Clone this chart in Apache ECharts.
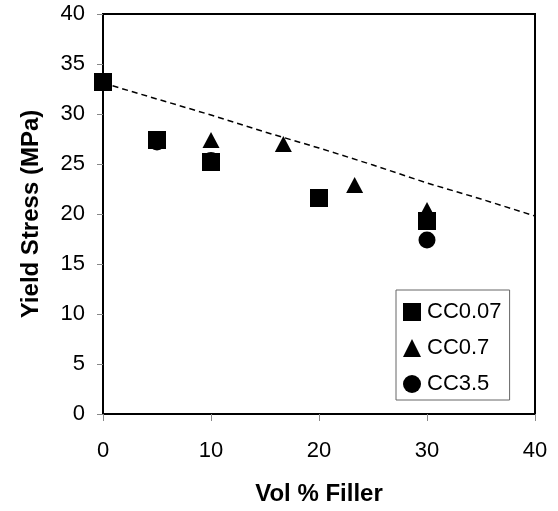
<!DOCTYPE html>
<html>
<head>
<meta charset="utf-8">
<script src="https://cdn.jsdelivr.net/npm/echarts@6/dist/echarts.min.js"></script>
<style>
html,body{margin:0;padding:0;background:#fff;}
#chart{width:558px;height:511px;}
</style>
</head>
<body>
<div id="chart"></div>
<script>
// Data
const seriesNames = ['CC0.07', 'CC0.7', 'CC3.5'];
const cc007X = [0, 5, 10, 20, 30];
const cc007Y = [33.2, 27.4, 25.2, 21.6, 19.3];
const cc07X = [10, 16.7, 23.3, 30];
const cc07Y = [27.4, 27.0, 22.9, 20.4];
const cc35X = [5, 10, 30];
const cc35Y = [27.2, 25.35, 17.4];
const modelX = [0, 5, 10, 15, 20, 25, 30, 35, 40];
const modelY = [33.1, 31.5, 29.9, 28.2, 26.6, 24.9, 23.1, 21.5, 19.8];
const xTicks = [0, 10, 20, 30, 40];
const yTicks = [0, 5, 10, 15, 20, 25, 30, 35, 40];

const zip = (xs, ys) => xs.map((x, i) => [x, ys[i]]);
const FONT = '"Liberation Sans", Arial, sans-serif';

const chart = echarts.init(document.getElementById('chart'), null, {renderer: 'canvas'});
chart.setOption({
  animation: false,
  backgroundColor: '#fff',
  grid: {left: 103, top: 14, right: 23, bottom: 95, show: true, borderColor: '#000', borderWidth: 2, backgroundColor: '#fff'},
  legend: {
    orient: 'vertical',
    left: 396, top: 290,
    padding: [11, 8, 5, 7],
    itemGap: 14,
    itemWidth: 18, itemHeight: 18,
    borderColor: '#666', borderWidth: 1,
    backgroundColor: '#fff',
    inactiveColor: '#000',
    textStyle: {fontFamily: FONT, fontSize: 22, color: '#000', padding: [0, 0, 0, 1]},
    data: [
      {name: seriesNames[0], icon: 'rect'},
      {name: seriesNames[1], icon: 'triangle'},
      {name: seriesNames[2], icon: 'circle'}
    ]
  },
  xAxis: {
    type: 'value', min: xTicks[0], max: xTicks[xTicks.length - 1], interval: 10,
    name: 'Vol % Filler', nameLocation: 'middle', nameGap: 68,
    nameTextStyle: {fontFamily: FONT, fontSize: 24, fontWeight: 'bold', color: '#000'},
    axisLine: {show: true, onZero: false, lineStyle: {color: '#000', width: 2}},
    axisTick: {show: true, length: 7, lineStyle: {color: '#888', width: 1}},
    axisLabel: {fontFamily: FONT, fontSize: 22, color: '#000', margin: 26},
    splitLine: {show: false}
  },
  yAxis: {
    type: 'value', min: yTicks[0], max: yTicks[yTicks.length - 1], interval: 5,
    name: 'Yield Stress (MPa)', nameLocation: 'middle', nameGap: 60,
    nameTextStyle: {fontFamily: FONT, fontSize: 24, fontWeight: 'bold', color: '#000'},
    axisLine: {show: true, onZero: false, lineStyle: {color: '#000', width: 2}},
    axisTick: {show: true, length: 6, lineStyle: {color: '#888', width: 1}},
    axisLabel: {fontFamily: FONT, fontSize: 22, color: '#000', margin: 18},
    splitLine: {show: false}
  },
  series: [
    {
      name: 'model', type: 'line', data: zip(modelX, modelY),
      showSymbol: false, symbol: 'none', z: 1,
      lineStyle: {color: '#000', width: 1.5, type: [6, 4]},
      silent: true
    },
    {
      name: seriesNames[2], type: 'scatter', data: zip(cc35X, cc35Y),
      symbol: 'circle', symbolSize: 17, z: 2,
      itemStyle: {color: '#000', opacity: 1}
    },
    {
      name: seriesNames[1], type: 'scatter', data: zip(cc07X, cc07Y),
      symbol: 'triangle', symbolSize: [17, 16], z: 3,
      itemStyle: {color: '#000', opacity: 1}
    },
    {
      name: seriesNames[0], type: 'scatter', data: zip(cc007X, cc007Y),
      symbol: 'rect', symbolSize: 18, z: 4,
      itemStyle: {color: '#000', opacity: 1}
    }
  ]
});
</script>
</body>
</html>
